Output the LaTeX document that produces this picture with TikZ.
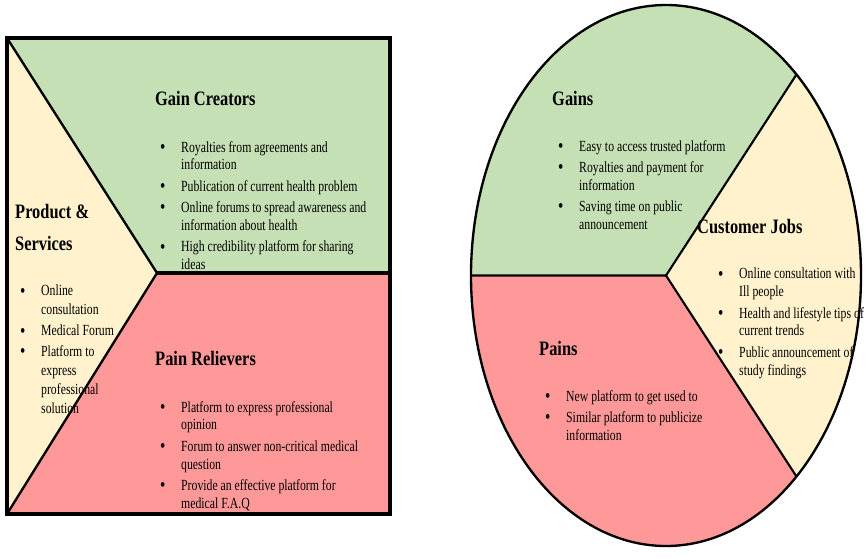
\documentclass[tikz,border=0pt]{standalone}
\usepackage{fontspec}
\setmainfont{Liberation Serif}[FakeStretch=0.8]
\newfontfamily\bodyfont{Liberation Serif}[FakeStretch=0.76]
\usepackage{xcolor}
\usepackage{tikz}
\definecolor{gaingreen}{HTML}{C5E0B4}
\definecolor{painred}{HTML}{FF9999}
\definecolor{jobyellow}{HTML}{FFF2CC}
\newcommand\bul{\makebox[17.9pt][l]{\raisebox{-1.2pt}{\fontsize{17}{17}\selectfont\textbullet}}}
\newcommand\ind{\hspace*{17.9pt}}

\begin{document}
\begin{tikzpicture}[x=0.03cm, y=-0.03cm,
    title/.style={anchor=base west, inner sep=0pt, font=\fontsize{17.5}{27.3}\selectfont\bfseries},
    itemlist/.style={anchor=north west, inner sep=0pt, align=left, font=\bodyfont\fontsize{13.2}{15.2}\selectfont}]
    \useasboundingbox (0,0) rectangle (868,558);

    % Value map: fills
    \fill[jobyellow] (7,38) -- (157,273) -- (7,514) -- cycle;
    \fill[gaingreen] (7,38) -- (390,38) -- (390,273) -- (157,273) -- cycle;
    \fill[painred] (157,273) -- (390,273) -- (390,514) -- (7,514) -- cycle;

    % Customer profile: fills
    \coordinate (c) at (666,275.5);
    \coordinate (cl) at (471,275.5);
    \fill[gaingreen] (c) -- (cl) arc[start angle=180, end angle=312, x radius=195, y radius=270.5] -- cycle;
    \fill[jobyellow] (c) -- ++(312:195 and 270.5) arc[start angle=-48, end angle=48, x radius=195, y radius=270.5] -- cycle;
    \fill[painred] (c) -- ++(48:195 and 270.5) arc[start angle=48, end angle=180, x radius=195, y radius=270.5] -- cycle;

    % Value map: texts
    \node[title] (gctitle) at (155,105) {Gain Creators};
    \node[itemlist] (gclist) at (160,141) {\bul Royalties from agreements and\\ \ind information\\[3pt]
        \bul Publication of current health problem\\[3pt]
        \bul Online forums to spread awareness and\\ \ind information about health\\[3pt]
        \bul High credibility platform for sharing\\ \ind ideas};
    \node[title, anchor=north west, align=left] (pstitle) at (15,204) {Product \&\\Services};
    \node[itemlist, font=\bodyfont\fontsize{13.2}{16.2}\selectfont] (pslist) at (20,285) {\bul Online\\ \ind consultation\\[1.5pt]
        \bul Medical Forum\\[1.5pt]
        \bul Platform to\\ \ind express\\ \ind professional\\ \ind solution};
    \node[title] (prtitle) at (155,365) {Pain Relievers};
    \node[itemlist] (prlist) at (160,401) {\bul Platform to express professional\\ \ind opinion\\[3pt]
        \bul Forum to answer non-critical medical\\ \ind question\\[3pt]
        \bul Provide an effective platform for\\ \ind medical F.A.Q};

    % Customer profile: texts
    \node[title] (gntitle) at (552,105) {Gains};
    \node[itemlist] (gnlist) at (558,140) {\bul Easy to access trusted platform\\[3pt]
        \bul Royalties and payment for\\ \ind information\\[3pt]
        \bul Saving time on public\\ \ind announcement};
    \node[title] (cjtitle) at (697,233) {Customer Jobs};
    \node[itemlist] (cjlist) at (718,268) {\bul Online consultation with\\ \ind Ill people\\[3pt]
        \bul Health and lifestyle tips of\\ \ind current trends\\[3pt]
        \bul Public announcement of\\ \ind study findings};
    \node[title] (pntitle) at (539,355) {Pains};
    \node[itemlist] (pnlist) at (545,390) {\bul New platform to get used to\\[3pt]
        \bul Similar platform to publicize\\ \ind information};

    % Value map: lines
    \draw[line width=2pt] (7,38) -- (157,273) -- (7,514);
    \draw[line width=2.6pt] (157,273) -- (390,273);
    \draw[line width=2.8pt] (7,38) rectangle (390,514);

    % Customer profile: lines
    \draw[line width=1.8pt] (cl) -- (c) -- ++(312:195 and 270.5);
    \draw[line width=1.8pt] (c) -- ++(48:195 and 270.5);
    \draw[line width=2pt] (c) ellipse[x radius=195, y radius=270.5];
\end{tikzpicture}
\end{document}
